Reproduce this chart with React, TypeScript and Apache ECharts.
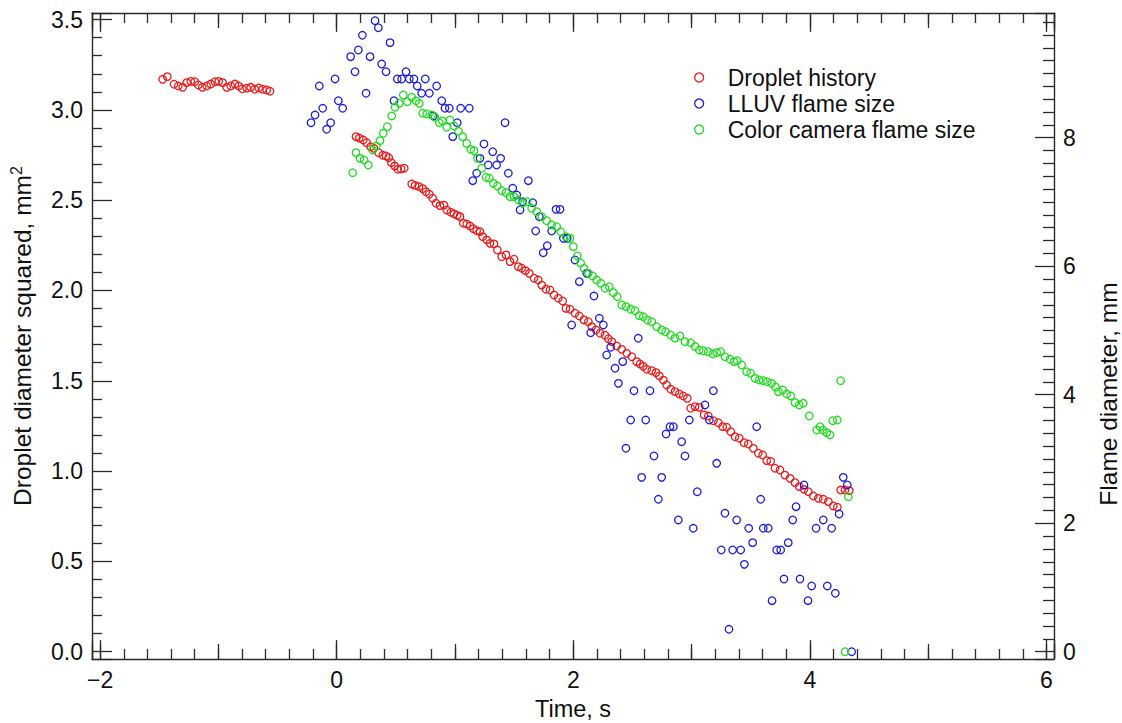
import React, { useEffect, useRef } from "react";
import * as echarts from "echarts";

// ---- Data (time in s; droplet in mm^2 on left axis; flame sizes in mm on right axis) ----
const dropletHistory: [number, number][] = [
  [-1.471, 3.169], [-1.432, 3.184], [-1.375, 3.142], [-1.339, 3.132], [-1.302, 3.125],
  [-1.268, 3.151], [-1.234, 3.158], [-1.2, 3.156], [-1.17, 3.138], [-1.136, 3.125],
  [-1.099, 3.132], [-1.065, 3.143], [-1.029, 3.156], [-0.997, 3.158], [-0.964, 3.151],
  [-0.93, 3.125], [-0.896, 3.132], [-0.86, 3.143], [-0.828, 3.132], [-0.798, 3.117],
  [-0.761, 3.12], [-0.727, 3.125], [-0.693, 3.114], [-0.659, 3.121], [-0.626, 3.114],
  [-0.592, 3.11], [-0.564, 3.103],
  [0.163, 2.852], [0.191, 2.844], [0.225, 2.833], [0.254, 2.818], [0.287, 2.796],
  [0.315, 2.787], [0.355, 2.763], [0.389, 2.749], [0.417, 2.745], [0.44, 2.735],
  [0.462, 2.708], [0.49, 2.69], [0.516, 2.671], [0.544, 2.673], [0.571, 2.677],
  [0.634, 2.59], [0.662, 2.582], [0.696, 2.575], [0.727, 2.564], [0.755, 2.547],
  [0.783, 2.533], [0.811, 2.511], [0.839, 2.483], [0.873, 2.47], [0.907, 2.473],
  [0.93, 2.446], [0.964, 2.433], [0.992, 2.424], [1.019, 2.416], [1.042, 2.409],
  [1.07, 2.372], [1.099, 2.368], [1.127, 2.357], [1.155, 2.342], [1.183, 2.331],
  [1.211, 2.326], [1.234, 2.298], [1.268, 2.28], [1.296, 2.261], [1.33, 2.258],
  [1.358, 2.224], [1.395, 2.187], [1.431, 2.197], [1.465, 2.16], [1.499, 2.173],
  [1.535, 2.132], [1.564, 2.123], [1.596, 2.11], [1.628, 2.095], [1.668, 2.068],
  [1.704, 2.058], [1.733, 2.03], [1.769, 2.007], [1.803, 2.003], [1.837, 1.975],
  [1.873, 1.957], [1.91, 1.942], [1.938, 1.901], [1.972, 1.896], [2.014, 1.874],
  [2.051, 1.859], [2.09, 1.837], [2.127, 1.827], [2.155, 1.8], [2.192, 1.781],
  [2.226, 1.763], [2.268, 1.752], [2.296, 1.733], [2.325, 1.717], [2.367, 1.693],
  [2.409, 1.674], [2.451, 1.652], [2.494, 1.633], [2.536, 1.606], [2.564, 1.593],
  [2.592, 1.58], [2.62, 1.564], [2.663, 1.556], [2.699, 1.545], [2.727, 1.527],
  [2.761, 1.504], [2.789, 1.477], [2.823, 1.453], [2.86, 1.44], [2.896, 1.427],
  [2.93, 1.416], [2.964, 1.403], [2.992, 1.348], [3.029, 1.357], [3.065, 1.353],
  [3.105, 1.311], [3.141, 1.305], [3.184, 1.279], [3.226, 1.268], [3.263, 1.246],
  [3.297, 1.243], [3.331, 1.218], [3.367, 1.19], [3.403, 1.182], [3.443, 1.157],
  [3.479, 1.15], [3.522, 1.126], [3.564, 1.099], [3.601, 1.089], [3.635, 1.058],
  [3.669, 1.054], [3.705, 1.016], [3.747, 1.006], [3.789, 0.978], [3.832, 0.96],
  [3.874, 0.936], [3.91, 0.914], [3.95, 0.899], [3.987, 0.886], [4.029, 0.862],
  [4.071, 0.849], [4.113, 0.844], [4.156, 0.831], [4.198, 0.807], [4.232, 0.8],
  [4.26, 0.895], [4.297, 0.895], [4.333, 0.892],
];

const lluvFlameSize: [number, number][] = [
  [-0.217, 8.233], [-0.183, 8.353], [-0.147, 8.805], [-0.118, 8.458], [-0.085, 8.131],
  [-0.051, 8.233], [-0.014, 8.914], [0.014, 8.576], [0.051, 8.458], [0.118, 9.261],
  [0.155, 9.027], [0.183, 9.365], [0.217, 9.594], [0.248, 8.691], [0.282, 9.261],
  [0.324, 9.821], [0.352, 9.712], [0.38, 9.147], [0.417, 9.027], [0.451, 9.479],
  [0.484, 8.576], [0.512, 8.914], [0.549, 8.914], [0.586, 9.027], [0.614, 8.914],
  [0.653, 8.914], [0.681, 8.805], [0.718, 8.691], [0.749, 8.914], [0.783, 8.691],
  [0.817, 8.338], [0.845, 8.805], [0.888, 8.576], [0.915, 8.458], [0.952, 8.458],
  [0.981, 8.016], [1.019, 8.233], [1.048, 8.458], [1.121, 8.458], [1.15, 7.331],
  [1.183, 7.446], [1.211, 7.679], [1.245, 7.902], [1.281, 7.575], [1.319, 7.782],
  [1.352, 7.575], [1.386, 7.679], [1.423, 8.233], [1.451, 7.446], [1.488, 7.213],
  [1.522, 7.108], [1.55, 6.875], [1.572, 7.004], [1.62, 7.331], [1.657, 6.988],
  [1.682, 6.548], [1.713, 6.77], [1.746, 6.21], [1.78, 6.319], [1.817, 6.548],
  [1.854, 6.885], [1.888, 6.885], [1.916, 6.434], [1.949, 6.434], [1.986, 5.085],
  [2.014, 6.097], [2.051, 5.759], [2.113, 5.889], [2.147, 4.965], [2.175, 5.536],
  [2.22, 5.189], [2.254, 5.085], [2.282, 4.618], [2.316, 4.738], [2.353, 4.411],
  [2.381, 4.177], [2.418, 4.514], [2.445, 3.166], [2.485, 3.606], [2.513, 4.062],
  [2.549, 4.878], [2.578, 2.714], [2.612, 3.606], [2.648, 4.062], [2.682, 3.046],
  [2.719, 2.372], [2.747, 2.714], [2.784, 3.388], [2.817, 3.502], [2.846, 3.502],
  [2.888, 2.05], [2.916, 3.268], [2.944, 3.046], [2.981, 3.606], [3.014, 1.921],
  [3.048, 2.49], [3.113, 3.84], [3.15, 3.606], [3.184, 4.062], [3.212, 2.932],
  [3.251, 1.583], [3.282, 2.154], [3.316, 0.349], [3.347, 1.583], [3.381, 2.05],
  [3.415, 1.583], [3.446, 1.36], [3.483, 1.921], [3.516, 1.697], [3.55, 3.502],
  [3.584, 2.372], [3.606, 1.921], [3.648, 1.921], [3.68, 0.794], [3.719, 1.583],
  [3.753, 1.583], [3.781, 1.131], [3.817, 1.697], [3.855, 2.05], [3.883, 2.257],
  [3.916, 1.131], [3.95, 2.595], [3.984, 0.794], [4.015, 1.023], [4.052, 1.921],
  [4.113, 2.05], [4.147, 1.023], [4.184, 1.921], [4.215, 0.909], [4.247, 2.143],
  [4.282, 2.714], [4.316, 2.595], [4.353, 0.0],
];

const colorCameraFlameSize: [number, number][] = [
  [0.135, 7.455], [0.163, 7.767], [0.197, 7.679], [0.231, 7.653], [0.267, 7.575],
  [0.304, 7.809], [0.335, 7.87], [0.366, 7.953], [0.394, 8.069], [0.428, 8.171],
  [0.465, 8.338], [0.493, 8.473], [0.529, 8.535], [0.563, 8.665], [0.597, 8.56],
  [0.634, 8.629], [0.67, 8.576], [0.698, 8.535], [0.727, 8.38], [0.761, 8.369],
  [0.803, 8.353], [0.831, 8.318], [0.867, 8.233], [0.893, 8.262], [0.93, 8.162],
  [0.958, 8.276], [0.992, 8.182], [1.03, 8.1], [1.065, 8.016], [1.099, 7.91],
  [1.133, 7.819], [1.161, 7.798], [1.189, 7.679], [1.226, 7.524], [1.262, 7.384],
  [1.29, 7.368], [1.324, 7.29], [1.358, 7.248], [1.395, 7.175], [1.431, 7.144],
  [1.465, 7.082], [1.499, 7.082], [1.535, 7.03], [1.572, 6.979], [1.611, 7.004],
  [1.648, 6.901], [1.691, 6.848], [1.733, 6.77], [1.775, 6.708], [1.817, 6.641],
  [1.86, 6.615], [1.893, 6.537], [1.938, 6.459], [1.972, 6.434], [2.0, 6.304],
  [2.034, 6.159], [2.062, 6.05], [2.09, 5.967], [2.127, 5.889], [2.164, 5.848],
  [2.198, 5.785], [2.232, 5.734], [2.268, 5.656], [2.304, 5.681], [2.338, 5.588],
  [2.372, 5.525], [2.409, 5.396], [2.446, 5.37], [2.485, 5.329], [2.522, 5.307],
  [2.558, 5.23], [2.592, 5.214], [2.626, 5.163], [2.663, 5.136], [2.705, 5.058],
  [2.747, 5.007], [2.78, 4.98], [2.823, 4.929], [2.86, 4.88], [2.902, 4.914],
  [2.944, 4.825], [2.992, 4.809], [3.03, 4.75], [3.065, 4.696], [3.099, 4.685],
  [3.141, 4.669], [3.178, 4.633], [3.212, 4.654], [3.246, 4.669], [3.282, 4.591],
  [3.325, 4.551], [3.358, 4.514], [3.386, 4.529], [3.423, 4.462], [3.465, 4.358],
  [3.499, 4.333], [3.536, 4.255], [3.572, 4.229], [3.606, 4.218], [3.64, 4.202],
  [3.677, 4.177], [3.71, 4.12], [3.733, 4.047], [3.77, 4.073], [3.804, 4.011],
  [3.838, 3.98], [3.874, 3.876], [3.91, 3.84], [3.944, 3.866], [3.995, 3.668],
  [4.058, 3.451], [4.086, 3.502], [4.108, 3.451], [4.142, 3.409], [4.17, 3.373],
  [4.193, 3.595], [4.232, 3.606], [4.26, 4.218], [4.297, 0.0], [4.325, 2.412],
];

const seriesNames = ["Droplet history", "LLUV flame size", "Color camera flame size"];
const seriesColors = ["#e81c1c", "#1c1cdc", "#1fdc1f"];

// Axis ranges (frame edges)
const X_MIN = -2.0685;
const X_MAX = 6.0634;
const YL_MIN = -0.0404;
const YL_MAX = 3.5365;
const YR_MIN = -0.1136;
const YR_MAX = 9.9409;

const FONT = '"Liberation Sans", Arial, Helvetica, sans-serif';
const AX = "#2a2a2a";
const TXT = "#111111";

export default function App() {
  const ref = useRef<HTMLDivElement>(null);

  useEffect(() => {
    if (!ref.current) return;
    const chart = echarts.init(ref.current, undefined, { renderer: "svg" });

    const axLine = { show: true, onZero: false, lineStyle: { color: AX, width: 1.4 } };
    const tickStyle = { color: AX, width: 1.3 };
    const xFmt = (v: number) => (v < 0 ? "\u2212" + Math.abs(v) : String(v));

    const xMajor = (pos: "bottom" | "top", labels: boolean) => ({
      type: "value",
      position: pos,
      min: X_MIN,
      max: X_MAX,
      splitNumber: 4,
      minInterval: 2,
      maxInterval: 2,
      axisLine: axLine,
      splitLine: { show: false },
      axisTick: { show: true, inside: true, length: 19, lineStyle: tickStyle },
      minorTick: { show: true, splitNumber: 10, length: 10, lineStyle: tickStyle },
      axisLabel: labels
        ? {
            show: true,
            margin: 9,
            fontSize: 23,
            fontFamily: FONT,
            color: TXT,
            formatter: xFmt,
            showMinLabel: false,
            showMaxLabel: false,
          }
        : { show: false },
    });
    const xMedium = (pos: "bottom" | "top") => ({
      type: "value",
      position: pos,
      min: X_MIN,
      max: X_MAX,
      splitNumber: 8,
      minInterval: 1,
      maxInterval: 1,
      axisLine: { show: false, onZero: false },
      splitLine: { show: false },
      axisTick: { show: true, inside: true, length: 15, lineStyle: tickStyle },
      axisLabel: { show: false },
    });

    const mkSeries = (i: number, data: [number, number][], yIdx: number) => ({
      name: seriesNames[i],
      type: "scatter",
      xAxisIndex: 0,
      yAxisIndex: yIdx,
      data,
      symbol: "circle",
      symbolSize: 7.5,
      itemStyle: {
        color: "rgba(0,0,0,0)",
        borderColor: seriesColors[i],
        borderWidth: 1.3,
        opacity: 1,
      },
      emphasis: { disabled: true },
      clip: false,
    });

    const option: any = {
      animation: false,
      backgroundColor: "#ffffff",
      textStyle: { fontFamily: FONT },
      grid: { left: 92, right: 68, top: 13, bottom: 64, containLabel: false, outerBoundsMode: "none" },
      xAxis: [xMajor("bottom", true), xMedium("bottom"), xMajor("top", false), xMedium("top")],
      yAxis: [
        {
          type: "value",
          position: "left",
          min: YL_MIN,
          max: YL_MAX,
          splitNumber: 7,
          minInterval: 0.5,
          maxInterval: 0.5,
          axisLine: axLine,
          splitLine: { show: false },
          axisTick: { show: true, inside: true, length: 20, lineStyle: tickStyle },
          minorTick: { show: true, splitNumber: 5, length: 10, lineStyle: tickStyle },
          axisLabel: {
            margin: 9,
            fontSize: 23,
            fontFamily: FONT,
            color: TXT,
            formatter: (v: number) => v.toFixed(1),
            showMinLabel: false,
            showMaxLabel: false,
          },
        },
        {
          type: "value",
          position: "right",
          min: YR_MIN,
          max: YR_MAX,
          splitNumber: 5,
          minInterval: 2,
          maxInterval: 2,
          axisLine: axLine,
          splitLine: { show: false },
          axisTick: { show: true, inside: true, length: 19, lineStyle: tickStyle },
          minorTick: { show: true, splitNumber: 10, length: 11, lineStyle: tickStyle },
          axisLabel: {
            margin: 9,
            fontSize: 23,
            fontFamily: FONT,
            color: TXT,
            formatter: (v: number) => String(Math.round(v)),
            showMinLabel: false,
            showMaxLabel: false,
          },
        },
      ],
      legend: {
        orient: "vertical",
        left: 694,
        top: 66,
        padding: 0,
        itemWidth: 9,
        itemHeight: 9,
        itemGap: 3,
        selectedMode: false,
        textStyle: { fontSize: 23, color: TXT, fontFamily: FONT, padding: [0, 0, 0, 19] },
        data: seriesNames.map((n, i) => ({
          name: n,
          icon: "circle",
          itemStyle: { color: "rgba(0,0,0,0)", borderColor: seriesColors[i], borderWidth: 1.3 },
        })),
      },
      graphic: [
        {
          type: "text",
          x: 22,
          y: 336,
          rotation: Math.PI / 2,
          style: {
            text: "Droplet diameter squared, mm{sup|2}",
            fontSize: 24.5,
            fontFamily: FONT,
            fill: TXT,
            align: "center",
            verticalAlign: "middle",
            lineHeight: 28,
            rich: {
              sup: { fontSize: 16, fontFamily: FONT, fill: TXT, verticalAlign: "top", lineHeight: 28 },
            },
          },
        },
        {
          type: "text",
          x: 1108,
          y: 394,
          rotation: Math.PI / 2,
          style: {
            text: "Flame diameter, mm",
            fontSize: 24.5,
            fontFamily: FONT,
            fill: TXT,
            align: "center",
            verticalAlign: "middle",
          },
        },
        {
          type: "text",
          x: 573,
          y: 709,
          style: {
            text: "Time, s",
            fontSize: 23.5,
            fontFamily: FONT,
            fill: TXT,
            align: "center",
            verticalAlign: "middle",
          },
        },
      ],
      series: [
        mkSeries(0, dropletHistory, 0),
        mkSeries(1, lluvFlameSize, 1),
        mkSeries(2, colorCameraFlameSize, 1),
      ],
    };

    chart.setOption(option);
    return () => chart.dispose();
  }, []);

  return (
    <div
      ref={ref}
      style={{ position: "fixed", left: 0, top: 0, width: 1122, height: 723, background: "#fff" }}
    />
  );
}
